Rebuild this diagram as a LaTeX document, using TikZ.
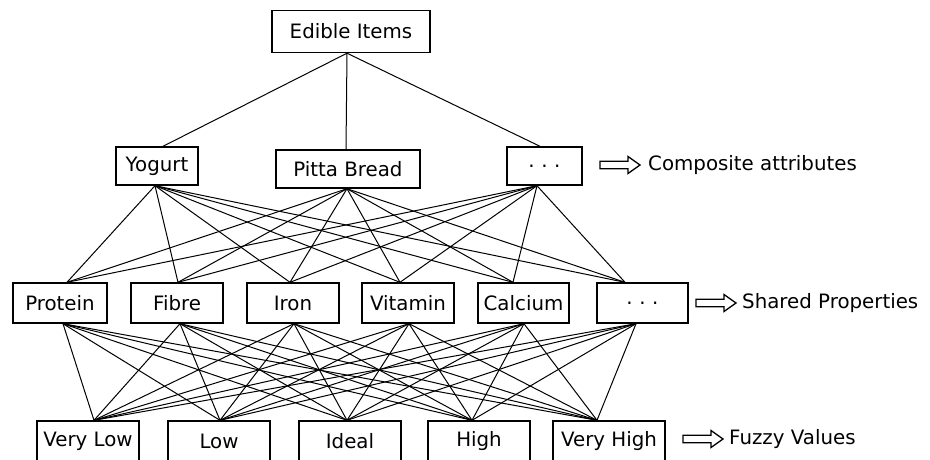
\documentclass[tikz,border=0pt]{standalone}
\usepackage{fontspec}
\setmainfont{DejaVu Sans}
\usetikzlibrary{calc}
\begin{document}
\begin{tikzpicture}[x=1pt,y=-1pt,
  box/.style={draw, line width=1.4pt, inner sep=0pt, font=\fontsize{19.8}{22}\selectfont},
  link/.style={line width=1pt},
  lab/.style={anchor=west, inner sep=0pt, font=\fontsize{19.8}{22}\selectfont},
  fatarrow/.pic={\draw[line width=1.3pt, fill=white] (0,-3.8) -- (28,-3.8) -- (28,-8.5) -- (40,0) -- (28,8.5) -- (28,3.8) -- (0,3.8) -- cycle;}
]
\clip (0,0) rectangle (930,459);
\fill[white] (0,0) rectangle (930,459);

% top
\node[box, minimum width=158pt, minimum height=42pt] (edible) at (351,31.5) {Edible Items};

% composite attributes
\node[box, minimum width=82pt, minimum height=38pt] (c1) at (157,166) {Yogurt};
\node[box, minimum width=144pt, minimum height=38pt] (c2) at (348,169) {Pitta Bread};
\node[box, minimum width=75pt, minimum height=38pt] (c3) at (544.5,166) {.\,\,.\,\,.};

% shared properties
\node[box, minimum width=94pt, minimum height=40pt] (p1) at (60,303) {Protein};
\node[box, minimum width=92pt, minimum height=40pt] (p2) at (177,303) {Fibre};
\node[box, minimum width=92pt, minimum height=40pt] (p3) at (293,303) {Iron};
\node[box, minimum width=92pt, minimum height=40pt] (p4) at (408,303) {Vitamin};
\node[box, minimum width=91pt, minimum height=40pt] (p5) at (523.5,303) {Calcium};
\node[box, minimum width=91pt, minimum height=40pt] (p6) at (642.5,303) {.\,\,.\,\,.};

% fuzzy values
\node[box, minimum width=102pt, minimum height=40pt] (v1) at (88,441) {Very Low};
\node[box, minimum width=102pt, minimum height=40pt] (v2) at (219,441) {Low};
\node[box, minimum width=102pt, minimum height=40pt] (v3) at (350,441) {Ideal};
\node[box, minimum width=102pt, minimum height=40pt] (v4) at (479,441) {High};
\node[box, minimum width=112pt, minimum height=40pt] (v5) at (609,441) {Very High};

% attach points
\coordinate (es) at ($(edible.south)+(-4,0)$);
\foreach \n/\t/\b in {c1/6/-2, c2/-2/-1, c3/-4.5/-7.5,
    p1/7/3, p2/1/3, p3/-3/1, p4/-8/1, p5/-10.5/0.5, p6/-17.5/-6.5,
    v1/6/0, v2/1/0, v3/-3/0, v4/-7/0, v5/-12/0}{
  \coordinate (\n t) at ($(\n.north)+(\t,0)$);
  \coordinate (\n b) at ($(\n.south)+(\b,0)$);
}

% connectors
\foreach \c in {c1,c2,c3} \draw[link] (es) -- (\c t);
\foreach \c in {c1,c2,c3}
  \foreach \p in {p1,p2,p3,p4,p5,p6}
    \draw[link] (\c b) -- (\p t);
\foreach \p in {p1,p2,p3,p4,p5,p6}
  \foreach \v in {v1,v2,v3,v4,v5}
    \draw[link] (\p b) -- (\v t);

% level labels
\pic at (600,165) {fatarrow};
\node[lab] (lc) at (648,165) {Composite attributes};
\pic at (696,303) {fatarrow};
\node[lab] (lp) at (742,303) {Shared Properties};
\pic at (683,439) {fatarrow};
\node[lab] (lv) at (729,439) {Fuzzy Values};
\end{tikzpicture}
\end{document}
